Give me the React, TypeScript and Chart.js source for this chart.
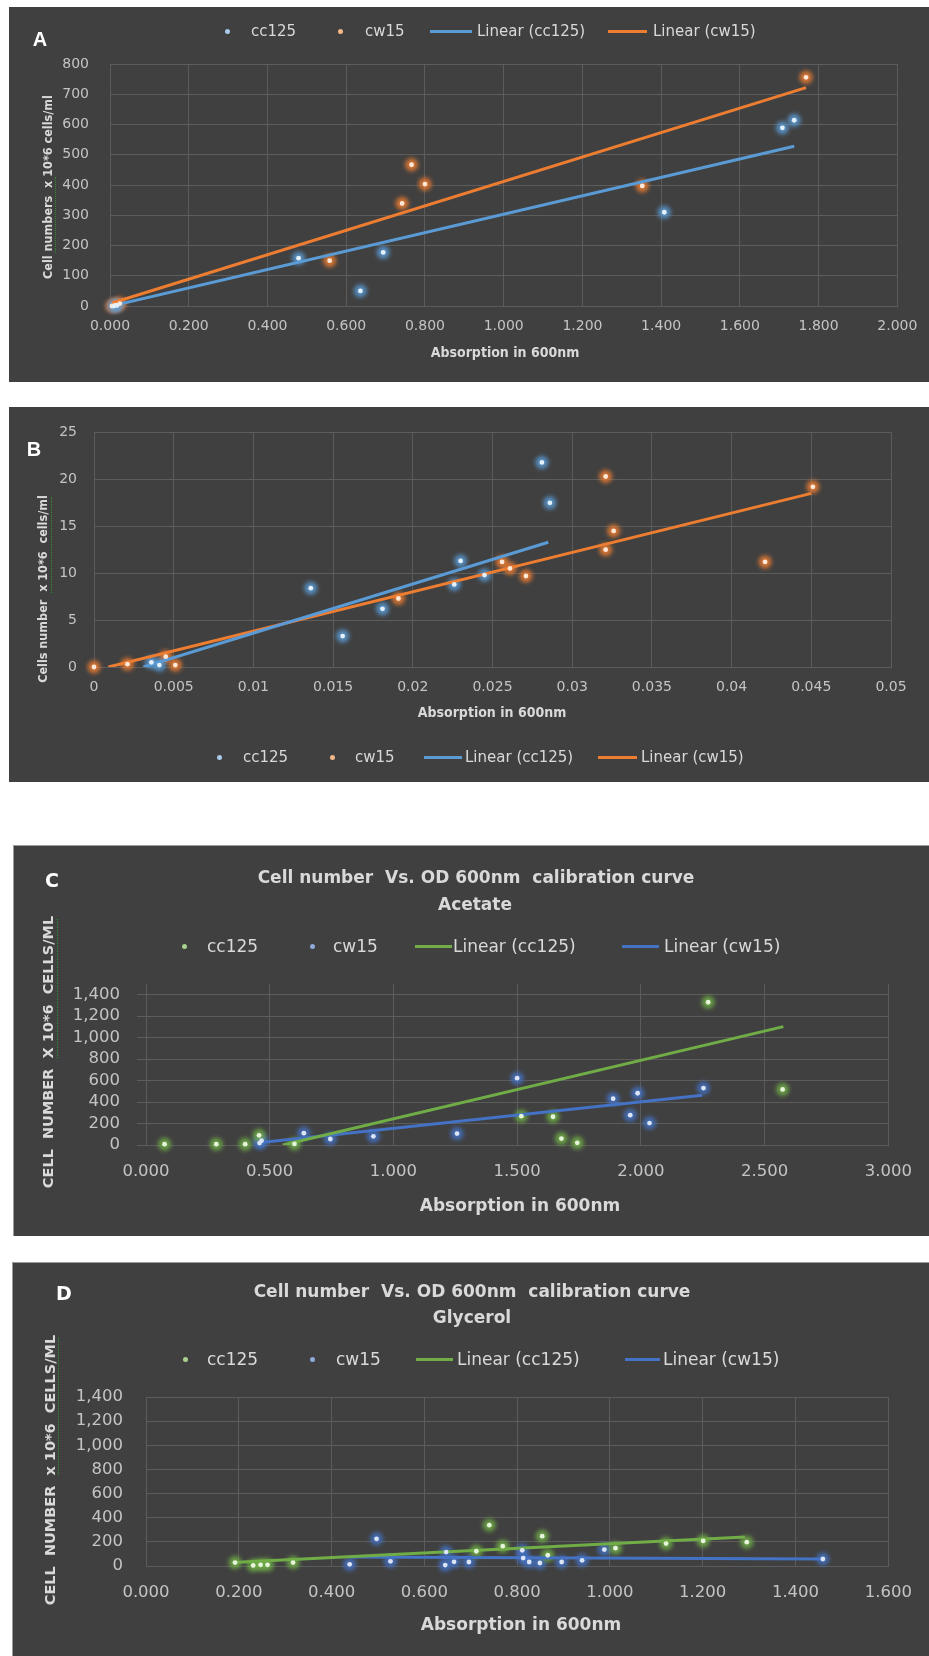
import React, { useEffect, useRef } from 'react';
import { Chart, registerables } from 'chart.js';

Chart.register(...registerables);

type Pt = { x: number; y: number };

// ---------- Panel A ----------
const aCc125: Pt[] = [
  { x: 0.010, y: 0 }, { x: 0.018, y: 2 }, { x: 0.479, y: 158 }, { x: 0.636, y: 50 },
  { x: 0.694, y: 177 }, { x: 1.408, y: 310 }, { x: 1.708, y: 589 }, { x: 1.738, y: 614 },
];
const aCw15: Pt[] = [
  { x: 0.005, y: 0 }, { x: 0.015, y: 3 }, { x: 0.025, y: 8 }, { x: 0.558, y: 150 },
  { x: 0.742, y: 339 }, { x: 0.766, y: 467 }, { x: 0.800, y: 403 }, { x: 1.352, y: 397 },
  { x: 1.768, y: 756 },
];
const aCc125Fit: Pt[] = [{ x: 0.010, y: 2 }, { x: 1.738, y: 528 }];
const aCw15Fit: Pt[] = [{ x: 0.005, y: 10 }, { x: 1.768, y: 722 }];
const aXTicks = ['0.000', '0.200', '0.400', '0.600', '0.800', '1.000', '1.200', '1.400', '1.600', '1.800', '2.000'];
const aYTicks = ['0', '100', '200', '300', '400', '500', '600', '700', '800'];

// ---------- Panel B ----------
const bCc125: Pt[] = [
  { x: 0.0036, y: 0.5 }, { x: 0.0041, y: 0.2 }, { x: 0.0136, y: 8.4 }, { x: 0.0156, y: 3.3 },
  { x: 0.0181, y: 6.2 }, { x: 0.0226, y: 8.8 }, { x: 0.0230, y: 11.3 }, { x: 0.0245, y: 9.8 },
  { x: 0.0281, y: 21.8 }, { x: 0.0286, y: 17.5 },
];
const bCw15: Pt[] = [
  { x: 0.0, y: 0 }, { x: 0.0021, y: 0.3 }, { x: 0.0045, y: 1.1 }, { x: 0.0051, y: 0.2 },
  { x: 0.0191, y: 7.3 }, { x: 0.0256, y: 11.2 }, { x: 0.0261, y: 10.5 }, { x: 0.0271, y: 9.7 },
  { x: 0.0321, y: 20.3 }, { x: 0.0321, y: 12.5 }, { x: 0.0326, y: 14.5 }, { x: 0.0421, y: 11.2 },
  { x: 0.0451, y: 19.2 },
];
const bCc125Fit: Pt[] = [{ x: 0.0031, y: 0 }, { x: 0.0285, y: 13.3 }];
const bCw15Fit: Pt[] = [{ x: 0.0009, y: 0 }, { x: 0.0450, y: 18.5 }];
const bXTicks = ['0', '0.005', '0.01', '0.015', '0.02', '0.025', '0.03', '0.035', '0.04', '0.045', '0.05'];
const bYTicks = ['0', '5', '10', '15', '20', '25'];

// ---------- Panel C (acetate) ----------
const cCc125: Pt[] = [
  { x: 0.075, y: 8 }, { x: 0.284, y: 8 }, { x: 0.401, y: 8 }, { x: 0.457, y: 90 },
  { x: 0.600, y: 10 }, { x: 1.517, y: 269 }, { x: 1.645, y: 263 }, { x: 1.679, y: 60 },
  { x: 1.743, y: 20 }, { x: 2.272, y: 1330 }, { x: 2.573, y: 518 },
];
const cCw15: Pt[] = [
  { x: 0.459, y: 18 }, { x: 0.467, y: 40 }, { x: 0.638, y: 110 }, { x: 0.745, y: 56 },
  { x: 0.919, y: 81 }, { x: 1.257, y: 106 }, { x: 1.500, y: 623 }, { x: 1.888, y: 432 },
  { x: 1.957, y: 278 }, { x: 1.987, y: 482 }, { x: 2.035, y: 204 }, { x: 2.253, y: 530 },
];
const cCc125Fit: Pt[] = [{ x: 0.553, y: 0 }, { x: 2.576, y: 1103 }];
const cCw15Fit: Pt[] = [{ x: 0.457, y: 20 }, { x: 2.248, y: 463 }];
const cXTicks = ['0.000', '0.500', '1.000', '1.500', '2.000', '2.500', '3.000'];
const cdYTicks = ['0', '200', '400', '600', '800', '1,000', '1,200', '1,400'];

// ---------- Panel D (glycerol) ----------
const dCc125: Pt[] = [
  { x: 0.192, y: 28 }, { x: 0.231, y: 5 }, { x: 0.247, y: 10 }, { x: 0.262, y: 10 },
  { x: 0.317, y: 28 }, { x: 0.712, y: 122 }, { x: 0.740, y: 338 }, { x: 0.769, y: 164 },
  { x: 0.854, y: 247 }, { x: 0.866, y: 89 }, { x: 1.012, y: 148 }, { x: 1.121, y: 186 },
  { x: 1.201, y: 208 }, { x: 1.295, y: 197 },
];
const dCw15: Pt[] = [
  { x: 0.439, y: 14 }, { x: 0.497, y: 225 }, { x: 0.527, y: 39 }, { x: 0.645, y: 8 },
  { x: 0.647, y: 115 }, { x: 0.664, y: 35 }, { x: 0.696, y: 33 }, { x: 0.811, y: 130 },
  { x: 0.813, y: 66 }, { x: 0.826, y: 33 }, { x: 0.849, y: 25 }, { x: 0.896, y: 33 },
  { x: 0.940, y: 47 }, { x: 0.988, y: 136 }, { x: 1.459, y: 58 },
];
const dCc125Fit: Pt[] = [{ x: 0.186, y: 30 }, { x: 1.291, y: 240 }];
const dCw15Fit: Pt[] = [{ x: 0.439, y: 75 }, { x: 1.459, y: 57 }];
const dXTicks = ['0.000', '0.200', '0.400', '0.600', '0.800', '1.000', '1.200', '1.400', '1.600'];

// ---------- styling ----------
const SANS = '"DejaVu Sans", Verdana, sans-serif';
const SANS_NARROW = '"DejaVu Sans Condensed", "DejaVu Sans", sans-serif';
const BG = '#404040';
const GRID = '#5c5c5c';
const TICK = '#c4c4c4';
const LABEL = '#d9d9d9';

const BLUE_A = '#5b9bd5';
const ORANGE_A = '#ed7d31';
const GREEN_C = '#70ad47';
const BLUE_C = '#4472c4';

type Series = { points: Pt[]; fit: Pt[]; core: string; halo: string; line: string };
type Box = { x: number; y: number; w: number; h: number };
type PanelCfg = {
  box: Box;
  plot: { l: number; r: number; t: number; b: number };
  xMin: number; xMax: number; yMin: number; yMax: number;
  xTicks: string[]; yTicks: string[];
  tickFont: number; yLabelGap: number; xLabelCenter: number; yTickLen: number;
  series: Series[];
};

const toNum = (s: string) => parseFloat(s.replace(/,/g, ''));

function withAlpha(hex: string, a: number) {
  const n = parseInt(hex.slice(1), 16);
  return `rgba(${(n >> 16) & 255},${(n >> 8) & 255},${n & 255},${a})`;
}

// soft glow behind each marker, drawn as a blurred disc
const markerGlow = {
  id: 'markerGlow',
  beforeDatasetDraw(chart: any, args: any) {
    const ds = chart.data.datasets[args.index];
    if (ds.halo) {
      chart.ctx.save();
      chart.ctx.filter = 'blur(2px)';
    }
  },
  afterDatasetDraw(chart: any, args: any) {
    const ds = chart.data.datasets[args.index];
    if (ds.halo) chart.ctx.restore();
  },
};

function ScatterPanel({ cfg }: { cfg: PanelCfg }) {
  const ref = useRef<HTMLCanvasElement>(null);
  useEffect(() => {
    const c = cfg;
    const w = c.box.w;
    const h = c.box.h;
    const L = c.plot.l - c.box.x;
    const R = c.plot.r - c.box.x;
    const T = c.plot.t - c.box.y;
    const B = c.plot.b - c.box.y;
    const xVals = c.xTicks.map(toNum);
    const yVals = c.yTicks.map(toNum);
    const lineH = c.tickFont * 1.2;
    const datasets: any[] = [];
    c.series.forEach((s) =>
      datasets.push({
        type: 'scatter', data: s.points, pointRadius: 6.5, pointHoverRadius: 6.5,
        backgroundColor: withAlpha(s.halo, 0.85), borderWidth: 0, halo: true, order: 5, clip: 10,
      })
    );
    c.series.forEach((s) =>
      datasets.push({
        type: 'line', data: s.fit, borderColor: s.line, borderWidth: 3, pointRadius: 0,
        fill: false, tension: 0, order: 3,
      })
    );
    c.series.forEach((s) =>
      datasets.push({
        type: 'scatter', data: s.points, pointRadius: 2.4, pointHoverRadius: 2.4,
        backgroundColor: s.core, borderWidth: 0, order: 1, clip: 10,
      })
    );
    const chart = new Chart(ref.current as HTMLCanvasElement, {
      type: 'scatter',
      data: { datasets },
      options: {
        animation: false,
        responsive: false,
        devicePixelRatio: 1,
        events: [],
        layout: { padding: { left: 0, top: T, right: w - R, bottom: 0 } },
        plugins: { legend: { display: false }, tooltip: { enabled: false } },
        scales: {
          x: {
            type: 'linear',
            min: c.xMin,
            max: c.xMax,
            afterBuildTicks: (s: any) => { s.ticks = xVals.map((v) => ({ value: v })); },
            afterFit: (s: any) => { s.height = h - B; },
            grid: { color: GRID, lineWidth: 1, drawTicks: false },
            border: { color: GRID, width: 1 },
            ticks: {
              color: TICK,
              font: { family: SANS, size: c.tickFont },
              padding: c.xLabelCenter - c.plot.b - lineH / 2,
              autoSkip: false,
              maxRotation: 0,
              callback: (_v: any, i: number) => c.xTicks[i],
            },
          },
          y: {
            type: 'linear',
            min: c.yMin,
            max: c.yMax,
            afterBuildTicks: (s: any) => { s.ticks = yVals.map((v) => ({ value: v })); },
            afterFit: (s: any) => { s.width = L; },
            grid: { color: GRID, lineWidth: 1, drawTicks: c.yTickLen > 0, tickLength: c.yTickLen },
            border: { color: GRID, width: 1 },
            ticks: {
              color: TICK,
              font: { family: SANS, size: c.tickFont },
              padding: c.yLabelGap,
              autoSkip: false,
              callback: (_v: any, i: number) => c.yTicks[i],
            },
          },
        },
      } as any,
      plugins: [markerGlow],
    });
    return () => chart.destroy();
  }, [cfg]);
  return (
    <canvas
      ref={ref}
      width={cfg.box.w}
      height={cfg.box.h}
      style={{ position: 'absolute', left: cfg.box.x, top: cfg.box.y, width: cfg.box.w, height: cfg.box.h }}
    />
  );
}

type TxtProps = {
  x: number; y: number; text: string; size: number; bold?: boolean; color?: string;
  align?: 'center' | 'left'; rotate?: boolean; family?: string; spacing?: number;
};
function Txt({ x, y, text, size, bold, color = LABEL, align = 'center', rotate, family = SANS, spacing = 0 }: TxtProps) {
  const tf = rotate
    ? 'translate(-50%, -50%) rotate(-90deg)'
    : align === 'center' ? 'translate(-50%, -50%)' : 'translate(0, -50%)';
  return (
    <div
      style={{
        position: 'absolute', left: x, top: y, transform: tf, whiteSpace: 'pre',
        fontFamily: family, fontSize: size, fontWeight: bold ? 'bold' : 'normal', color,
        lineHeight: 1, letterSpacing: spacing,
      }}
    >
      {text}
    </div>
  );
}

function Dot({ x, y, color }: { x: number; y: number; color: string }) {
  return (
    <div style={{ position: 'absolute', left: x - 2.5, top: y - 2.5, width: 5, height: 5, borderRadius: '50%', background: color }} />
  );
}
function Dash({ x1, x2, y, color }: { x1: number; x2: number; y: number; color: string }) {
  return <div style={{ position: 'absolute', left: x1, top: y - 1.5, width: x2 - x1, height: 3, background: color }} />;
}
function Squiggle({ x, y1, y2 }: { x: number; y1: number; y2: number }) {
  return <div style={{ position: 'absolute', left: x, top: y1, height: y2 - y1, width: 0, borderLeft: '1px dotted #2f8f2f' }} />;
}
function PanelBg({ box, border }: { box: Box; border?: boolean }) {
  return (
    <div
      style={{
        position: 'absolute', left: box.x, top: box.y, width: box.w, height: box.h, background: BG,
        boxSizing: 'border-box', borderLeft: border ? '1px solid #9a9a9a' : 'none', borderTop: border ? '1px solid #9a9a9a' : 'none',
      }}
    />
  );
}

const panelA: PanelCfg = {
  box: { x: 9, y: 7, w: 920, h: 375 },
  plot: { l: 110, r: 900, t: 64, b: 306 },
  xMin: 0, xMax: 2, yMin: 0, yMax: 800,
  xTicks: aXTicks, yTicks: aYTicks,
  tickFont: 14, yLabelGap: 21, xLabelCenter: 326, yTickLen: 0,
  series: [
    { points: aCc125, fit: aCc125Fit, core: '#e4f0fa', halo: BLUE_A, line: BLUE_A },
    { points: aCw15, fit: aCw15Fit, core: '#fde8d8', halo: ORANGE_A, line: ORANGE_A },
  ],
};
const panelB: PanelCfg = {
  box: { x: 9, y: 407, w: 920, h: 375 },
  plot: { l: 94, r: 891, t: 424, b: 667 },
  xMin: 0, xMax: 0.05, yMin: 0, yMax: 25,
  xTicks: bXTicks, yTicks: bYTicks,
  tickFont: 14, yLabelGap: 17, xLabelCenter: 687, yTickLen: 0,
  series: [
    { points: bCc125, fit: bCc125Fit, core: '#e4f0fa', halo: BLUE_A, line: BLUE_A },
    { points: bCw15, fit: bCw15Fit, core: '#fde8d8', halo: ORANGE_A, line: ORANGE_A },
  ],
};
const panelC: PanelCfg = {
  box: { x: 13, y: 845, w: 916, h: 391 },
  plot: { l: 146, r: 894, t: 984, b: 1145 },
  xMin: 0, xMax: 3, yMin: 0, yMax: 1500,
  xTicks: cXTicks, yTicks: cdYTicks,
  tickFont: 16.5, yLabelGap: 17, xLabelCenter: 1172, yTickLen: 9,
  series: [
    { points: cCc125, fit: cCc125Fit, core: '#e6f4dc', halo: GREEN_C, line: GREEN_C },
    { points: cCw15, fit: cCw15Fit, core: '#dce5f6', halo: BLUE_C, line: BLUE_C },
  ],
};
const panelD: PanelCfg = {
  box: { x: 12, y: 1262, w: 917, h: 394 },
  plot: { l: 146, r: 896, t: 1397, b: 1566 },
  xMin: 0, xMax: 1.6, yMin: 0, yMax: 1400,
  xTicks: dXTicks, yTicks: cdYTicks,
  tickFont: 16.5, yLabelGap: 23, xLabelCenter: 1593, yTickLen: 0,
  series: [
    { points: dCc125, fit: dCc125Fit, core: '#e6f4dc', halo: GREEN_C, line: GREEN_C },
    { points: dCw15, fit: dCw15Fit, core: '#dce5f6', halo: BLUE_C, line: BLUE_C },
  ],
};

export default function App() {
  return (
    <div style={{ position: 'absolute', left: 0, top: 0, width: 929, height: 1656, background: '#ffffff', overflow: 'hidden' }}>
      {/* A */}
      <PanelBg box={panelA.box} />
      <ScatterPanel cfg={panelA} />
      <Txt x={40} y={39} text="A" size={20} bold color="#ffffff" family='"Liberation Sans", Arial, sans-serif' />
      <Dot x={227} y={31} color="#a9cbe9" />
      <Txt x={251} y={31} text="cc125" size={15} align="left" />
      <Dot x={340} y={31} color="#f5b889" />
      <Txt x={365} y={31} text="cw15" size={15} align="left" />
      <Dash x1={430} x2={472} y={31} color={BLUE_A} />
      <Txt x={477} y={31} text="Linear (cc125)" size={15} align="left" />
      <Dash x1={608} x2={647} y={31} color={ORANGE_A} />
      <Txt x={653} y={31} text="Linear (cw15)" size={15} align="left" />
      <Txt x={505} y={352} text="Absorption in 600nm" size={14} bold family={SANS_NARROW} />
      <Txt x={48} y={187} text="Cell numbers  x 10*6 cells/ml" size={12.5} bold rotate family={SANS_NARROW} />
      <Squiggle x={55} y1={177} y2={253} />

      {/* B */}
      <PanelBg box={panelB.box} />
      <ScatterPanel cfg={panelB} />
      <Txt x={34} y={449} text="B" size={20} bold color="#ffffff" family='"Liberation Sans", Arial, sans-serif' />
      <Txt x={492} y={712} text="Absorption in 600nm" size={14} bold family={SANS_NARROW} />
      <Txt x={43} y={589} text="Cells number  x 10*6  cells/ml" size={12.5} bold rotate family={SANS_NARROW} />
      <Squiggle x={51} y1={497} y2={593} />
      <Dot x={219} y={757} color="#a9cbe9" />
      <Txt x={243} y={757} text="cc125" size={15} align="left" />
      <Dot x={332} y={757} color="#f5b889" />
      <Txt x={355} y={757} text="cw15" size={15} align="left" />
      <Dash x1={424} x2={462} y={757} color={BLUE_A} />
      <Txt x={465} y={757} text="Linear (cc125)" size={15} align="left" />
      <Dash x1={598} x2={637} y={757} color={ORANGE_A} />
      <Txt x={641} y={757} text="Linear (cw15)" size={15} align="left" />

      {/* C */}
      <PanelBg box={panelC.box} border />
      <ScatterPanel cfg={panelC} />
      <Txt x={52} y={880} text="C" size={19} bold color="#ffffff" />
      <Txt x={476} y={877} text="Cell number  Vs. OD 600nm  calibration curve" size={17} bold />
      <Txt x={475} y={904} text="Acetate" size={17} bold />
      <Dot x={184} y={946} color="#a9d18e" />
      <Txt x={207} y={946} text="cc125" size={17} align="left" />
      <Dot x={312} y={946} color="#8faadc" />
      <Txt x={333} y={946} text="cw15" size={17} align="left" />
      <Dash x1={415} x2={452} y={946} color={GREEN_C} />
      <Txt x={453} y={946} text="Linear (cc125)" size={17} align="left" />
      <Dash x1={622} x2={659} y={946} color={BLUE_C} />
      <Txt x={664} y={946} text="Linear (cw15)" size={17} align="left" />
      <Txt x={520} y={1205} text="Absorption in 600nm" size={17} bold />
      <Txt x={48} y={1052} text="CELL  NUMBER  X 10*6  CELLS/ML" size={14.5} bold rotate />
      <Squiggle x={57} y1={919} y2={1058} />

      {/* D */}
      <PanelBg box={panelD.box} border />
      <ScatterPanel cfg={panelD} />
      <Txt x={64} y={1293} text="D" size={19} bold color="#ffffff" />
      <Txt x={472} y={1291} text="Cell number  Vs. OD 600nm  calibration curve" size={17} bold />
      <Txt x={472} y={1317} text="Glycerol" size={17} bold />
      <Dot x={185} y={1359} color="#a9d18e" />
      <Txt x={207} y={1359} text="cc125" size={17} align="left" />
      <Dot x={312} y={1359} color="#8faadc" />
      <Txt x={336} y={1359} text="cw15" size={17} align="left" />
      <Dash x1={416} x2={453} y={1359} color={GREEN_C} />
      <Txt x={457} y={1359} text="Linear (cc125)" size={17} align="left" />
      <Dash x1={625} x2={660} y={1359} color={BLUE_C} />
      <Txt x={663} y={1359} text="Linear (cw15)" size={17} align="left" />
      <Txt x={521} y={1624} text="Absorption in 600nm" size={17} bold />
      <Txt x={50} y={1470} text="CELL  NUMBER  x 10*6  CELLS/ML" size={14.5} bold rotate />
      <Squiggle x={58} y1={1338} y2={1475} />
    </div>
  );
}
